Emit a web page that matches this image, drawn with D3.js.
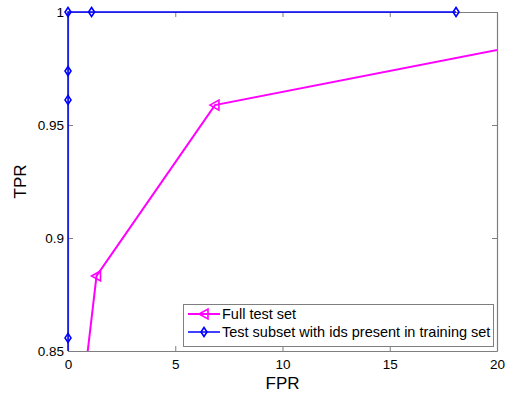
<!DOCTYPE html>
<html>
<head>
<meta charset="utf-8">
<script src="https://cdn.jsdelivr.net/npm/d3@7"></script>
<style>
  html, body { margin: 0; padding: 0; background: #fff; }
  svg { display: block; font-family: "Liberation Sans", Arial, Helvetica, sans-serif; }
</style>
</head>
<body>
<svg id="chart" width="509" height="395"></svg>
<script>
// ROC points (FPR in %, TPR)
const fullFPR = [0.5, 1.33, 6.85, 25];
const fullTPR = [0.816, 0.8832, 0.9588, 0.9925];
const subsetFPR = [0, 0, 0, 0, 0, 1.10, 18.09];
const subsetTPR = [0.80, 0.8558, 0.9611, 0.9739, 1.0, 1.0, 1.0];

const xTicks = [0, 5, 10, 15, 20];
const yTicks = [0.85, 0.9, 0.95, 1];
const seriesNames = ["Full test set", "Test subset with ids present in training set"];
const seriesColors = ["#ff00ff", "#0000ff"];

const svg = d3.select("#chart");
const m = { left: 68, right: 497, top: 12, bottom: 351 };

const x = d3.scaleLinear().domain([0, 20]).range([m.left, m.right]);
const y = d3.scaleLinear().domain([0.85, 1]).range([m.bottom, m.top]);

const axisColor = "#7f7f7f";

// clip region for the lines
svg.append("defs").append("clipPath").attr("id", "lineclip")
  .append("rect")
  .attr("x", m.left - 1).attr("y", m.top - 1)
  .attr("width", m.right - m.left + 1).attr("height", m.bottom - m.top + 1);

// axes with inward ticks on all four sides
const fmt = d => String(d);
const gB = svg.append("g").attr("transform", `translate(0,${m.bottom})`)
  .call(d3.axisBottom(x).tickValues(xTicks).tickFormat(fmt).tickSizeInner(-5).tickSizeOuter(0));
const gT = svg.append("g").attr("transform", `translate(0,${m.top})`)
  .call(d3.axisTop(x).tickValues(xTicks).tickFormat("").tickSizeInner(-5).tickSizeOuter(0));
const gL = svg.append("g").attr("transform", `translate(${m.left},0)`)
  .call(d3.axisLeft(y).tickValues(yTicks).tickFormat(fmt).tickSizeInner(-5).tickSizeOuter(0));
const gR = svg.append("g").attr("transform", `translate(${m.right},0)`)
  .call(d3.axisRight(y).tickValues(yTicks).tickFormat("").tickSizeInner(-5).tickSizeOuter(0));

[gB, gT, gL, gR].forEach(g => {
  g.selectAll(".domain").attr("stroke", axisColor).attr("stroke-width", 1.2);
  g.selectAll(".tick line").attr("stroke", axisColor);
  g.selectAll("text").attr("fill", "#000").attr("font-size", 13.5)
    .attr("font-family", "'Liberation Sans', Arial, sans-serif");
});
gB.selectAll("text").attr("dy", "0.71em").attr("y", 8);
gL.selectAll("text").attr("x", -4).attr("dy", "0.36em");

// axis titles
svg.append("text").attr("x", (m.left + m.right) / 2).attr("y", 389)
  .attr("text-anchor", "middle").attr("font-size", 17).text("FPR");
svg.append("text").attr("transform", `translate(26,${(m.top + m.bottom) / 2}) rotate(-90)`)
  .attr("text-anchor", "middle").attr("font-size", 17).text("TPR");

// series
const line = d3.line().x(d => x(d[0])).y(d => y(d[1]));
const fullData = d3.zip(fullFPR, fullTPR);
const subsetData = d3.zip(subsetFPR, subsetTPR);

function triLeft(g, cx, cy, color) {
  const s = 5;
  g.append("path")
    .attr("d", `M${cx - s},${cy} L${cx + s * 0.8},${cy - s} L${cx + s * 0.8},${cy + s} Z`)
    .attr("fill", "none").attr("stroke", color).attr("stroke-width", 1.6);
}
function diamond(g, cx, cy, color) {
  g.append("path")
    .attr("d", `M${cx},${cy - 4.5} L${cx + 3},${cy} L${cx},${cy + 4.5} L${cx - 3},${cy} Z`)
    .attr("fill", "none").attr("stroke", color).attr("stroke-width", 1.6);
}

const plot = svg.append("g");
plot.append("path").datum(subsetData).attr("d", line)
  .attr("clip-path", "url(#lineclip)")
  .attr("fill", "none").attr("stroke", seriesColors[1]).attr("stroke-width", 1.5);
plot.append("path").datum(fullData).attr("d", line)
  .attr("clip-path", "url(#lineclip)")
  .attr("fill", "none").attr("stroke", seriesColors[0]).attr("stroke-width", 2);

const inView = d => d[0] >= 0 && d[0] <= 20 && d[1] >= 0.85 && d[1] <= 1;
const markers = svg.append("g");
fullData.filter(inView).forEach(d => triLeft(markers, x(d[0]), y(d[1]), seriesColors[0]));
subsetData.filter(inView).forEach(d => diamond(markers, x(d[0]), y(d[1]), seriesColors[1]));

// legend
const lg = svg.append("g");
lg.append("rect").attr("x", 183.5).attr("y", 304.5).attr("width", 310).attr("height", 42)
  .attr("fill", "#fff").attr("stroke", axisColor).attr("stroke-width", 1);
const rows = [314, 332];
seriesNames.forEach((name, i) => {
  const yy = rows[i];
  lg.append("line").attr("x1", 188).attr("x2", 220).attr("y1", yy).attr("y2", yy)
    .attr("stroke", seriesColors[i]).attr("stroke-width", i === 0 ? 2 : 1.5);
  if (i === 0) triLeft(lg, 204, yy, seriesColors[i]); else diamond(lg, 204, yy, seriesColors[i]);
  lg.append("text").attr("x", 222).attr("y", yy).attr("dy", "0.36em")
    .attr("font-size", 14.5).text(name);
});
</script>
</body>
</html>
